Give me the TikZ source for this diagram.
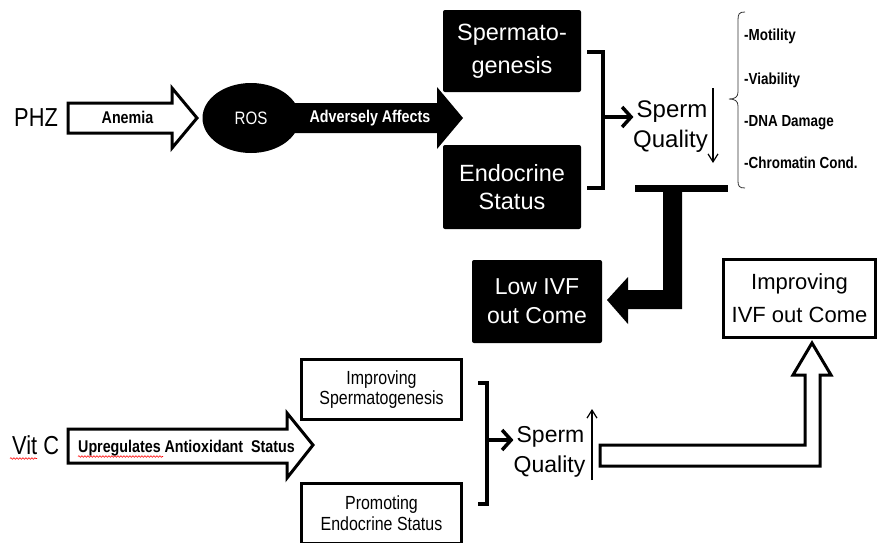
\documentclass[tikz,border=0pt]{standalone}
\usepackage{fontspec}
\setmainfont{Liberation Sans}
\newfontfamily\narrowfont[FakeStretch=0.84]{Liberation Sans}
\usetikzlibrary{arrows.meta,shapes.geometric,decorations.pathmorphing}
\begin{document}
\begin{tikzpicture}[x=1pt,y=-1pt,
  blackbox/.style={fill=black, text=white, rounded corners=2pt, inner sep=0pt, align=center},
  whitebox/.style={draw=black, line width=3pt, fill=white, inner sep=0pt, align=center},
  hollow/.style={draw=black, line width=3pt, fill=white, line join=miter},
  solidarrow/.style={fill=black},
  bracket/.style={line width=3.5pt, line join=miter},
  chev/.style={line width=3.5pt, -{Straight Barb[length=9pt,width=20pt]}},
  thinarrow/.style={line width=1.2pt, -{Straight Barb[length=8pt,width=10pt]}},
  boldlab/.style={inner sep=0pt, font=\narrowfont\bfseries\fontsize{17}{20}\selectfont},
  listlab/.style={inner sep=0pt, anchor=base west, font=\narrowfont\bfseries\fontsize{16}{19}\selectfont},
  biglab/.style={inner sep=0pt, font=\fontsize{24}{30}\selectfont},
  spell/.style={red, line width=0.6pt, decorate, decoration={snake, segment length=3pt, amplitude=0.8pt}}
]
\useasboundingbox (0,0) rectangle (878,542);

% ---------- top row ----------
\node[inner sep=0pt, anchor=base west, font=\narrowfont\fontsize{26}{30}\selectfont] (phz) at (14,126.5) {PHZ};

% Anemia hollow arrow
\draw[hollow] (68,103) -- (172,103) -- (172,88) -- (197,118) -- (172,148) -- (172,133) -- (68,133) -- cycle;
\node[boldlab, anchor=base] (anemia) at (127.5,123.5) {Anemia};

% Adversely affects solid arrow
\fill[solidarrow] (290,103) -- (437,103) -- (437,87) -- (463,118) -- (437,149) -- (437,133) -- (290,133) -- cycle;
\node[boldlab, anchor=base, text=white] (adv) at (370,122.7) {Adversely Affects};

% ROS ellipse
\node[ellipse, fill=black, text=white, minimum width=97pt, minimum height=70pt, inner sep=0pt,
      font=\narrowfont\fontsize{18}{20}\selectfont] (ros) at (251,118) {ROS};

% black boxes
\node[blackbox, minimum width=138pt, minimum height=82pt, font=\fontsize{23.5}{33}\selectfont] (spg) at (512,51) {Spermato-\\genesis};
\node[blackbox, minimum width=138pt, minimum height=84pt, font=\fontsize{23.5}{28}\selectfont] (endo) at (512,187) {Endocrine\\Status};

% bracket + chevron
\draw[bracket] (587,52) -- (603,52) -- (603,188) -- (587,188);
\coordinate (b1) at (603,117);
\node[biglab, anchor=base] (sperm1) at (672,117.3) {Sperm};
\node[biglab, anchor=base] (qual1) at (670.5,147.5) {Quality};
\draw[chev] (b1) -- (b1 -| sperm1.west) [shorten >=3pt];
\coordinate (d1) at (713,88);
\coordinate (d2) at (713,163);
\draw[thinarrow] (d1) -- (d2);

% brace and list
\draw[line width=0.8pt, black!80] (745,12) .. controls (739,12) and (738,14) .. (738,20) -- (738,92)
   .. controls (738,97) and (735,99) .. (729,99) .. controls (735,99) and (738,101) .. (738,106)
   -- (738,181) .. controls (738,186) and (739,188) .. (745,188);
\node[listlab] (mot) at (744,40) {-Motility};
\node[listlab] (via) at (744,84) {-Viability};
\node[listlab] (dna) at (744,126) {-DNA Damage};
\node[listlab] (chr) at (744,168) {-Chromatin Cond.};

% T-shaped block arrow to Low IVF
\fill (635,185) rectangle (728,192);
\fill (663,192) -- (663,290) -- (628,290) -- (628,277) -- (607,300) -- (628,324) -- (628,309) -- (682,309) -- (682,192) -- cycle;

\node[blackbox, minimum width=130pt, minimum height=83pt, font=\fontsize{23}{29}\selectfont] (low) at (537,301.5) {Low IVF\\out Come};

\node[whitebox, minimum width=152pt, minimum height=78pt, font=\fontsize{22}{33}\selectfont] (imp) at (799.5,298.5) {Improving\\IVF out Come};

% ---------- bottom row ----------
\node[inner sep=0pt, anchor=base west, font=\narrowfont\fontsize{26}{30}\selectfont] (vitc) at (12,454) {Vit C};
\draw[spell] (10,458.5) -- (37,458.5);

\draw[hollow] (68,429) -- (287,429) -- (287,413) -- (313,445) -- (287,478) -- (287,463) -- (68,463) -- cycle;
\node[boldlab, anchor=base west] (upr) at (78,452.7) {Upregulates Antioxidant\ \ Status};
\draw[spell] (78,456.5) -- (163,456.5);

\node[whitebox, minimum width=160pt, minimum height=60pt, font=\narrowfont\fontsize{19}{20}\selectfont] (isp) at (381.5,389.5) {Improving\\Spermatogenesis};
\node[whitebox, minimum width=160pt, minimum height=60pt, font=\narrowfont\fontsize{19}{21}\selectfont] (pes) at (381.5,513.5) {Promoting\\Endocrine Status};

\draw[bracket] (478,383) -- (487,383) -- (487,504) -- (478,504);
\coordinate (b2) at (487,440);
\node[biglab, anchor=base, font=\fontsize{23}{30}\selectfont] (sperm2) at (550.5,442) {Sperm};
\node[biglab, anchor=base, font=\fontsize{23}{30}\selectfont] (qual2) at (549.5,472) {Quality};
\draw[chev] (b2) -- (b2 -| sperm2.west) [shorten >=3pt];
\coordinate (u1) at (592,480);
\coordinate (u2) at (592,409);
\draw[thinarrow] (u1) -- (u2);

% hollow bent arrow to Improving IVF
\draw[hollow] (600,445) -- (805,445) -- (805,375) -- (793,375) -- (812,343) -- (831,375) -- (820,375) -- (820,466) -- (600,466) -- cycle;
\end{tikzpicture}
\end{document}
